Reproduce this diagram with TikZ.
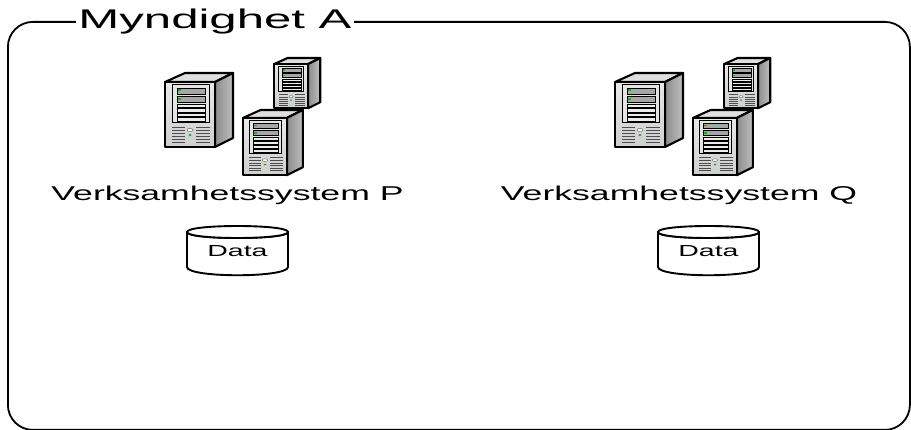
\documentclass[tikz,border=0pt]{standalone}
\usepackage{fontspec}
\setmainfont{Liberation Sans}
\tikzset{
  x=1pt,y=-1pt,
  outline/.style={draw=black,line width=2.1pt,line join=round},
  frontface/.style={outline,top color=white!82!gray,bottom color=white!62!gray},
  sideface/.style={outline,left color=gray!90,right color=gray!50},
  topface/.style={outline,fill=gray!25},
  panel/.style={draw=black,line width=1pt,fill=white!80!gray},
  bay/.style={draw=black,line width=.6pt,fill=white!85!gray},
  darkbay/.style={draw=black,line width=.6pt,fill=gray!70},
  grill/.style={draw=gray!60!black,line width=.5pt},
  led/.style={fill=green!75!black,draw=none},
  frame/.style={draw=black,line width=1.8pt,rounded corners=25pt},
  titlelabel/.style={fill=white,inner xsep=2pt,inner ysep=0pt},
  lbl/.style={inner sep=0pt},
  pics/server/.style={code={
    \path[topface] (0,9) -- (20,0) -- (68,0) -- (50,9) -- cycle;
    \path[sideface] (50,9) -- (68,0) -- (68,65) -- (50,74) -- cycle;
    \path[frontface] (0,9) rectangle (50,74);
    \path[panel] (7,12) rectangle (44,50);
    \path[darkbay] (12,15) rectangle (40,21);
    \path[darkbay] (12,23) rectangle (40,29);
    \foreach \yy in {31,35.5,40,44.5}{\path[bay] (12,\yy) rectangle (40,\yy+3.5);}
    \path[led] (13,16.5) rectangle (16,18.5);
    \path[led] (13,25) rectangle (16,27);
    \foreach \yy in {54,57,60,63,66,69}{
      \draw[grill] (7,\yy) -- (20,\yy);
      \draw[grill] (31,\yy) -- (45,\yy);
    }
    \path[draw=gray!70!black,line width=.4pt,fill=white] (25,57) ellipse (3 and 1.6);
    \path[led] (25,62) ellipse (1.6 and 1.2);
  }},
  pics/serverset/.style={code={
    \pic[scale=1] at (0,0) {server};
    \pic[scale=.68] at (109,-15) {server};
    \pic[scale=.88] at (78,37) {server};
  }},
  pics/datadrum/.style={code={
    \path[draw=black,line width=1.9pt,fill=white,line join=round]
      (0,7) -- (0,42) .. controls (0,53) and (101,53) .. (101,42) -- (101,7)
      .. controls (101,15) and (0,15) .. (0,7) -- cycle;
    \path[draw=black,line width=1.9pt,fill=white]
      (0,7) .. controls (0,-1) and (101,-1) .. (101,7)
      .. controls (101,15) and (0,15) .. (0,7) -- cycle;
  }},
}
\begin{document}
\begin{tikzpicture}
\useasboundingbox (0,0) rectangle (911,430);
\node[frame,minimum width=902pt,minimum height=408pt,anchor=north west] (box) at (7,21) {};
\node[titlelabel,anchor=base] (title) at (215,29) {\scalebox{1.82}[1]{\fontsize{27}{27}\selectfont Myndighet A}};
\pic at (165,73) {serverset};
\pic at (615,73) {serverset};
\node[lbl,anchor=base] (sysp) at (227.5,201) {\scalebox{1.78}[1]{\fontsize{20}{20}\selectfont Verksamhetssystem P}};
\node[lbl,anchor=base] (sysq) at (679,201) {\scalebox{1.78}[1]{\fontsize{20}{20}\selectfont Verksamhetssystem Q}};
\pic at (187,225) {datadrum};
\pic at (658,225) {datadrum};
\node[lbl,anchor=base] (datap) at (237.5,257) {\scalebox{1.78}[1]{\fontsize{16}{16}\selectfont Data}};
\node[lbl,anchor=base] (dataq) at (708.5,257) {\scalebox{1.78}[1]{\fontsize{16}{16}\selectfont Data}};
\end{tikzpicture}
\end{document}
